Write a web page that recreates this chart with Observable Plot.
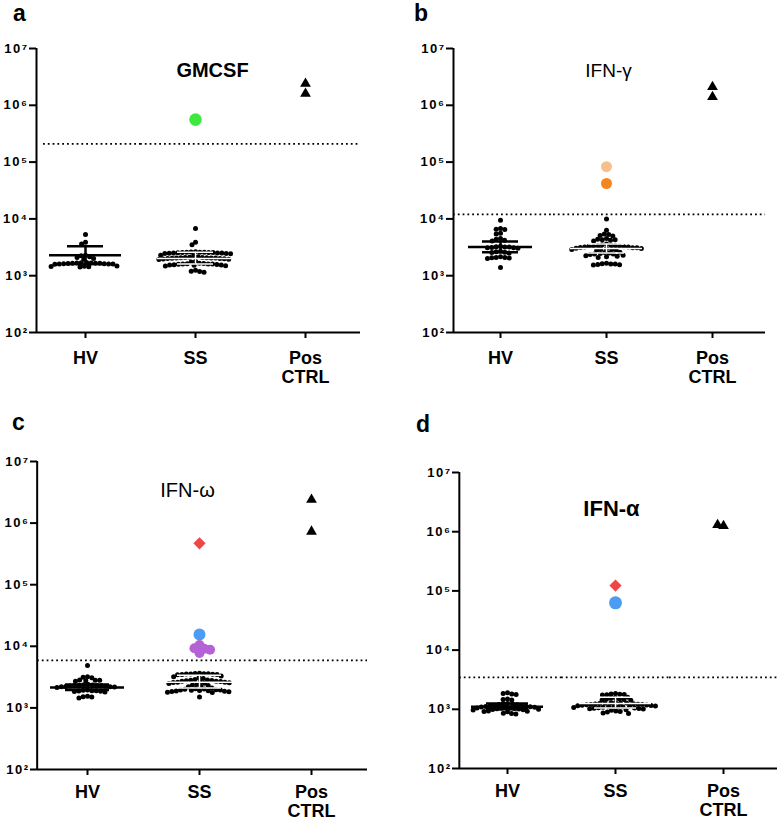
<!DOCTYPE html>
<html>
<head>
<meta charset="utf-8">
<script src="https://cdn.jsdelivr.net/npm/d3@7"></script>
<script src="https://cdn.jsdelivr.net/npm/@observablehq/plot@0.6"></script>
<style>
  body { margin: 0; background: #fff; }
  #wrap { position: relative; width: 779px; height: 820px; overflow: hidden; font-family: "Liberation Sans", Arial, sans-serif; }
  .panel { position: absolute; }
  .letter { position: absolute; font-weight: bold; font-size: 23px; line-height: normal; color: #000; }
  g[aria-label="y-axis tick label"] { letter-spacing: 1.5px; }
</style>
</head>
<body>
<div id="wrap"></div>
<script>
// ---------- shared categories / ticks ----------
const groups = ["HV", "SS", "Pos CTRL"];
const yTicks = [1e2, 1e3, 1e4, 1e5, 1e6, 1e7];
const yTickLabels = ["10²", "10³", "10⁴", "10⁵", "10⁶", "10⁷"];
const panelLetters = ["a", "b", "c", "d"];
const panelTitles = ["GMCSF", "IFN-γ", "IFN-ω", "IFN-α"];
const thresholds = [2.1e5, 1.2e4, 5.9e3, 3.45e3];

// ---------- panel a: GMCSF ----------
const gmcsfHV = [5300, 3900, 3600, 2300, 2250, 2150, 2100, 2000, 1950,
  1700, 1690, 1680, 1670, 1660, 1650, 1650, 1640, 1630, 1620, 1610, 1600, 1600, 1590,
  1480, 1460, 1450, 1440, 1420];
const gmcsfSS = [6800, 3900, 3500,
  2650, 2620, 2600, 2600, 2580, 2560, 2550, 2550, 2540, 2520, 2500, 2500, 2480, 2460, 2450, 2430,
  2300, 2250,
  2150, 2120, 2100, 2100, 2080, 2060, 2050, 2050, 2040, 2020, 2000, 2000, 1980, 1960, 1950, 1930,
  1800, 1750,
  1650, 1640, 1620, 1610, 1600, 1600, 1590, 1580, 1560, 1550, 1540, 1520, 1500, 1480,
  1250, 1200, 1180, 1150];
const gmcsfGreen = [5.6e5];
const gmcsfPos = [2.4e6, 1.6e6];
const gmcsfMean = [2300, 2000];
const gmcsfLow = [1600, 1600];
const gmcsfHigh = [3300, 2600];

// ---------- panel b: IFN-gamma ----------
const ifngHV = [9500, 6800, 6600, 6500, 5600, 5400, 4500, 4400, 4200, 4100,
  3300, 3250, 3200, 3200, 3150, 3100, 3100, 3050,
  2700, 2650, 2600, 2550, 2500,
  2150, 2100, 2100, 2080, 2050, 2000, 1400];
const ifngSS = [10000, 6300, 5400, 5300, 5100, 5000, 4500, 4400, 4300, 4300, 4200, 4100,
  3600, 3500, 3450, 3400, 3400, 3350, 3300, 3300, 3250, 3200, 3200, 3150, 3100, 3100, 3050, 3000, 3000, 2950, 2900, 2900, 2850, 2800,
  2600, 2550, 2500, 2450, 2400, 2400, 2350, 2300, 2250, 2200, 2150, 2100,
  1650, 1620, 1600, 1600, 1580, 1560, 1550];
const ifngLightOrange = [8.3e4];
const ifngOrange = [4.2e4];
const ifngPos = [2.1e6, 1.4e6];
const ifngMean = [3200, 3000];
const ifngLow = [2600, 2500];
const ifngHigh = [4000, 3600];

// ---------- panel c: IFN-omega ----------
const ifnwHV = [4900, 3200, 3150, 3100, 2850, 2800, 2800, 2750, 2700,
  2400, 2380, 2350, 2330, 2300, 2300, 2280, 2260, 2250, 2230, 2200, 2200, 2180, 2150,
  1950, 1930, 1900, 1900, 1880, 1860, 1850, 1820,
  1550, 1520, 1500, 1450];
const ifnwSS = [3650, 3620, 3600, 3580, 3560, 3540, 3520, 3500, 3480, 3450,
  3300, 3200, 3100, 3000,
  2900, 2850, 2800, 2780, 2750, 2720, 2700, 2680, 2650, 2620, 2600, 2580, 2550, 2520, 2500,
  2400, 2350, 2300, 2250, 2200,
  2100, 2050, 2020, 2000, 1980, 1960, 1950, 1940, 1920, 1900, 1880, 1860, 1850, 1830, 1800, 1780,
  1500];
const ifnwRed = [4.7e5];
const ifnwBlue = [1.55e4];
const ifnwPurple = [10500, 9300, 9100, 8800, 7800];
const ifnwPos = [2.4e6, 7.3e5];
const ifnwMean = [2150, 2600];
const ifnwLow = [1950, 2100];
const ifnwHigh = [2400, 3400];

// ---------- panel d: IFN-alpha ----------
const ifnaHV = [1900, 1850, 1820, 1780, 1500, 1470, 1440,
  1250, 1235, 1220, 1205, 1190, 1175, 1160, 1145, 1130, 1115, 1100, 1090, 1080, 1070, 1060, 1050, 1040, 1030, 1020, 1010, 1000, 990, 980, 970,
  940, 930, 920, 910, 860, 850, 830];
const ifnaSS = [1850, 1820, 1800, 1780, 1760, 1740,
  1600, 1560, 1530, 1500, 1480, 1460, 1440, 1420,
  1300, 1290, 1280, 1270, 1260, 1250, 1240, 1230, 1220, 1210, 1200, 1190, 1180, 1170, 1160, 1150, 1140, 1130, 1120, 1110, 1100, 1090, 1080, 1070, 1060, 1050, 1040, 1030, 1020, 1010,
  980, 960, 940, 920, 900, 870, 850];
const ifnaRed = [1.23e5];
const ifnaBlue = [6.3e4];
const ifnaPos = [1.25e6, 1.3e6];
const ifnaMean = [1100, 1250];
const ifnaLow = [1000, 1050];
const ifnaHigh = [1250, 1600];

// ---------- helpers ----------
const rows = (g, vals) => vals.map(v => ({g, v}));
const stats = (mean, low, high) => ["HV", "SS"].map((g, i) => ({g, mean: mean[i], lo: low[i], hi: high[i]}));
const SPINE = 6; // spine sits a few px inside the first facet

function makePanel(p) {
  const black = [...rows("HV", p.hv), ...rows("SS", p.ss)];
  const st = stats(p.mean, p.low, p.high);
  const hvSt = st.filter(d => d.g === "HV");
  const ssSt = st.filter(d => d.g === "SS");
  const band = (p.width - p.ml - p.mr) / groups.length;
  const thr = groups.map(g => ({g, v: p.threshold}));
  const base = groups.map(g => ({g, v: yTicks[0]}));
  const first = d => d.g === groups[0];
  const rest = d => d.g !== groups[0];
  const marks = [
    // dotted cut-off line and x-axis line, split so they start at the spine
    Plot.ruleY(thr.filter(first), {fx: "g", y: "v", insetLeft: p.thrInset, stroke: "#000", strokeWidth: 1.8, strokeDasharray: "1.8,3"}),
    Plot.ruleY(thr.filter(rest), {fx: "g", y: "v", stroke: "#000", strokeWidth: 1.8, strokeDasharray: "1.8,3"}),
    Plot.ruleY(base.filter(first), {fx: "g", y: "v", insetLeft: SPINE, stroke: "#000", strokeWidth: 2}),
    Plot.ruleY(base.filter(rest), {fx: "g", y: "v", stroke: "#000", strokeWidth: 2}),
    Plot.axisY({anchor: "left", ticks: yTicks, tickFormat: d => yTickLabels[yTicks.indexOf(d)], tickSize: 7, tickPadding: 1, dx: SPINE, fontSize: 13, fontWeight: "bold", label: null, strokeWidth: 2}),
    Plot.axisFx({anchor: "bottom", tickSize: 6, tickPadding: p.fxPad, tickFormat: d => d.replace(" ", "\n"), fontSize: 18, fontWeight: "bold", lineHeight: 1.05, label: null, strokeWidth: 2}),
    // HV mean +- SEM (black, under the points)
    Plot.ruleY(hvSt, {fx: "g", y: "mean", insetLeft: p.hvIn, insetRight: p.hvIn, strokeWidth: 2.5}),
    Plot.ruleY(hvSt, {fx: "g", y: "hi", insetLeft: p.semIn, insetRight: p.semIn, strokeWidth: 2.5}),
    Plot.ruleY(hvSt, {fx: "g", y: "lo", insetLeft: p.semIn, insetRight: p.semIn, strokeWidth: 2.5}),
    Plot.ruleX(hvSt, {fx: "g", x: null, y1: "lo", y2: "hi", strokeWidth: 2.5}),
    Plot.dot(black, Plot.dodgeX({anchor: "middle", padding: -0.6}, {fx: "g", y: "v", r: 2.5, fill: "#000"})),
    // SS mean +- SEM (white over the dense swarm)
    Plot.ruleY(ssSt, {fx: "g", y: "mean", insetLeft: p.ssIn, insetRight: p.ssIn, stroke: "#fff", strokeWidth: 1.5}),
    Plot.ruleY(ssSt, {fx: "g", y: "hi", insetLeft: p.semIn, insetRight: p.semIn, stroke: "#fff", strokeWidth: 1.5}),
    Plot.ruleY(ssSt, {fx: "g", y: "lo", insetLeft: p.semIn, insetRight: p.semIn, stroke: "#fff", strokeWidth: 1.5}),
    Plot.ruleX(ssSt, {fx: "g", x: null, y1: "lo", y2: "hi", stroke: "#fff", strokeWidth: 1.5}),
    Plot.dot(rows("Pos CTRL", p.pos), Plot.dodgeX({anchor: "middle", padding: p.posPad}, {fx: "g", y: "v", r: 4, symbol: "triangle", fill: "#000"}))
  ];
  for (const s of p.colored) {
    marks.push(Plot.dot(rows("SS", s.values), Plot.dodgeX({anchor: "middle", padding: s.pad ?? 0}, {fx: "g", y: "v", r: s.r, symbol: s.symbol, fill: s.color})));
  }
  marks.push(Plot.text([p.title], {text: d => d, frameAnchor: "top", lineAnchor: "middle", dx: p.tdx, dy: p.tdy, facet: "super", fontSize: p.tSize, fontWeight: p.tWeight}));
  // y-axis spine
  marks.push(Plot.ruleX([{g: groups[0]}], {fx: "g", x: null, dx: -band / 2 + SPINE, stroke: "#000", strokeWidth: 2}));
  return Plot.plot({
    width: p.width, height: p.height,
    marginLeft: p.ml, marginRight: p.mr, marginTop: p.mt, marginBottom: p.mb,
    style: {fontFamily: "'Liberation Sans', Arial, sans-serif", color: "#000", background: "#fff"},
    fx: {domain: groups, padding: 0},
    x: {domain: [0, 1], axis: null},
    y: {type: "log", domain: [1e2, 1e7]},
    marks
  });
}

const panels = [
  {left: 0, top: 30, width: 390, height: 362, ml: 30, mr: 30, mt: 18, mb: 60, fxPad: 12, posPad: 1, thrInset: 13,
   hv: gmcsfHV, ss: gmcsfSS, pos: gmcsfPos, mean: gmcsfMean, low: gmcsfLow, high: gmcsfHigh,
   hvIn: 19, ssIn: 17, semIn: 37, threshold: thresholds[0], title: panelTitles[0], tdx: 17, tdy: 22, tSize: 20, tWeight: "bold",
   colored: [{values: gmcsfGreen, color: "#3ee83e", symbol: "circle", r: 6.3}]},
  {left: 390, top: 30, width: 389, height: 362, ml: 57, mr: 14, mt: 18, mb: 60, fxPad: 12, posPad: 1, thrInset: 6,
   hv: ifngHV, ss: ifngSS, pos: ifngPos, mean: ifngMean, low: ifngLow, high: ifngHigh,
   hvIn: 21, ssIn: 17, semIn: 35, threshold: thresholds[1], title: panelTitles[1], tdx: 2, tdy: 22, tSize: 19, tWeight: "normal",
   colored: [{values: ifngLightOrange, color: "#f8bf8c", symbol: "circle", r: 5.5}, {values: ifngOrange, color: "#f5861f", symbol: "circle", r: 5.5}]},
  {left: 0, top: 440, width: 390, height: 380, ml: 30, mr: 22, mt: 21, mb: 51, fxPad: 9, posPad: 1, thrInset: 6,
   hv: ifnwHV, ss: ifnwSS, pos: ifnwPos, mean: ifnwMean, low: ifnwLow, high: ifnwHigh,
   hvIn: 19, ssIn: 19, semIn: 34, threshold: thresholds[2], title: panelTitles[2], tdx: -12, tdy: 29, tSize: 20, tWeight: "normal",
   colored: [{values: ifnwRed, color: "#ef4747", symbol: "diamond2", r: 5.5}, {values: ifnwBlue, color: "#4b9cf3", symbol: "circle", r: 6}, {values: ifnwPurple, color: "#b462d6", symbol: "circle", r: 5, pad: -4}]},
  {left: 390, top: 440, width: 389, height: 380, ml: 62, mr: 2, mt: 32, mb: 52, fxPad: 9, posPad: -2, thrInset: 6,
   hv: ifnaHV, ss: ifnaSS, pos: ifnaPos, mean: ifnaMean, low: ifnaLow, high: ifnaHigh,
   hvIn: 18, ssIn: 18, semIn: 33, threshold: thresholds[3], title: panelTitles[3], tdx: -4, tdy: 36, tSize: 22, tWeight: "bold",
   colored: [{values: ifnaRed, color: "#ef4747", symbol: "diamond2", r: 5.5}, {values: ifnaBlue, color: "#4b9cf3", symbol: "circle", r: 6.5}]}
];

const letterPos = [[13, 0], [414, 0], [12, 409], [416, 411]];
const wrap = document.getElementById("wrap");
panels.forEach((p, i) => {
  const div = document.createElement("div");
  div.className = "panel";
  div.style.left = p.left + "px";
  div.style.top = p.top + "px";
  div.appendChild(makePanel(p));
  wrap.appendChild(div);
  const L = document.createElement("div");
  L.className = "letter";
  L.textContent = panelLetters[i];
  L.style.left = letterPos[i][0] + "px";
  L.style.top = letterPos[i][1] + "px";
  wrap.appendChild(L);
});
</script>
</body>
</html>
